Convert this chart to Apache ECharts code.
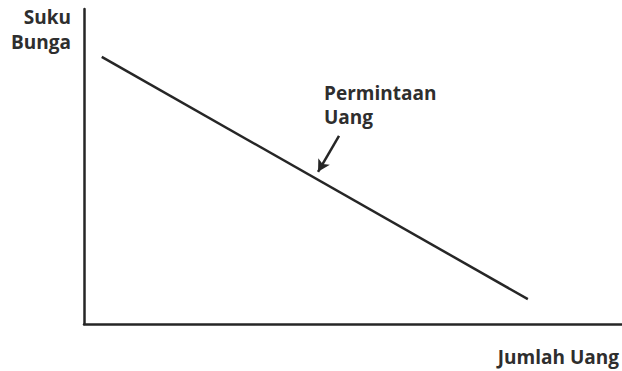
<!DOCTYPE html>
<html>
<head>
<meta charset="utf-8">
<script src="https://cdn.jsdelivr.net/npm/echarts@6/dist/echarts.min.js"></script>
<style>
html,body{margin:0;padding:0;background:#fff;}
#chart{width:622px;height:371px;}
</style>
</head>
<body>
<div id="chart"></div>
<script>
// Data (abstract units 0-100 on both axes)
var demandX = [3.3, 82.5];
var demandY = [84.8, 7.9];
var arrowFrom = [47.4, 59.7];
var arrowTo = [43.5, 48.3];
var yTitle = 'Suku\nBunga';
var xTitle = 'Jumlah Uang';
var curveLabel = 'Permintaan\nUang';

var demandData = demandX.map(function (x, i) { return [x, demandY[i]]; });

var chart = echarts.init(document.getElementById('chart'), null, { renderer: 'svg' });
var ink = '#262626';
var textInk = '#2e2e2e';
var font = '"Open Sans", "DejaVu Sans", sans-serif';

chart.setOption({
  backgroundColor: '#fff',
  animation: false,
  grid: { left: 84, right: 0, top: 9, bottom: 47 },
  xAxis: {
    type: 'value', min: 0, max: 100,
    axisLine: { show: true, lineStyle: { color: ink, width: 2.5 } },
    axisTick: { show: false }, axisLabel: { show: false }, splitLine: { show: false }
  },
  yAxis: {
    type: 'value', min: 0, max: 100,
    axisLine: { show: true, lineStyle: { color: ink, width: 2.5 } },
    axisTick: { show: false }, axisLabel: { show: false }, splitLine: { show: false }
  },
  series: [{
    type: 'line',
    data: demandData,
    symbol: 'none',
    lineStyle: { color: ink, width: 2.5 },
    markLine: {
      silent: true,
      symbol: ['none', 'arrow'],
      symbolSize: [10, 12],
      label: { show: false },
      lineStyle: { color: ink, width: 2.5, type: 'solid' },
      data: [[{ coord: arrowFrom }, { coord: arrowTo }]]
    }
  }],
  graphic: [
    { type: 'text', x: 71, y: 29, style: { text: yTitle, fill: textInk, font: 'bold 19px ' + font, textAlign: 'right', textVerticalAlign: 'middle', lineHeight: 25 } },
    { type: 'text', x: 324, y: 105, style: { text: curveLabel, fill: textInk, font: 'bold 19px ' + font, textAlign: 'left', textVerticalAlign: 'middle', lineHeight: 24 } },
    { type: 'text', x: 619, y: 357, style: { text: xTitle, fill: textInk, font: 'bold 19px ' + font, textAlign: 'right', textVerticalAlign: 'middle' } }
  ]
});
</script>
</body>
</html>
